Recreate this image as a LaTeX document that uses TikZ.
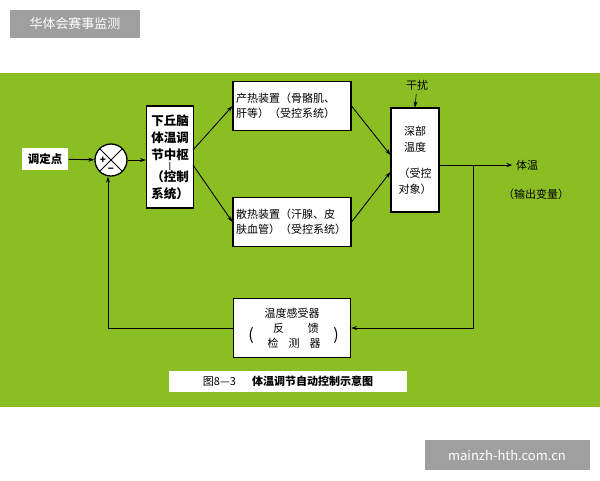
\documentclass[tikz,border=0pt]{standalone}
\usepackage{fontspec}
\setmainfont{Noto Sans CJK SC}
\usetikzlibrary{arrows.meta}
\definecolor{grn}{HTML}{8BBE22}
\begin{document}
\begin{tikzpicture}[x=1pt,y=-1pt,
  box/.style={draw=black,line width=1.1pt,fill=white,inner sep=0pt,align=center,font=\fontsize{11}{15}\selectfont},
  conn/.style={line width=0.9pt,-{Stealth[length=6pt,width=4pt]}},
  lbl/.style={font=\fontsize{11}{13}\selectfont}]
\useasboundingbox (0,0) rectangle (600,480);
\fill[white] (0,0) rectangle (600,480);
\fill[grn] (0,73) rectangle (600,407);
\node[fill=gray!75,text=white,minimum width=130pt,minimum height=28pt,inner sep=0pt,font=\fontsize{13}{15}\selectfont] (tl) at (75,24) {华体会赛事监测};
\node[fill=gray!75,text=white,minimum width=165pt,minimum height=30pt,inner sep=0pt,font=\fontsize{13}{15}\selectfont] (br) at (507,455) {mainzh-hth.com.cn};
\node[box,minimum width=46pt,minimum height=22pt,draw=none,font=\bfseries\fontsize{11.5}{12}\selectfont] (set) at (45,159) {调定点};
\node[draw=black,line width=1.3pt,fill=white,circle,minimum size=32pt,inner sep=0pt] (sum) at (111,160) {};
\draw[line width=1pt] (sum.north west) -- (sum.south east) (sum.north east) -- (sum.south west);
\node[font=\bfseries\fontsize{10}{10}\selectfont] (plus) at (103,160) {+};
\node[font=\bfseries\fontsize{10}{10}\selectfont] (minus) at (111,170) {−};
\node[box,minimum width=47pt,minimum height=102pt,font=\bfseries\fontsize{12.5}{17}\selectfont] (ctl) at (170,157) {下丘脑\\体温调\\节中枢\\[-8pt]{\fontsize{7}{7}\selectfont|}\\[-4pt]（控制\\系统）};
\node[box,minimum width=118pt,minimum height=49pt,align=left,text width=112pt] (heat) at (292,106) {产热装置（骨骼肌、\\肝等）（受控系统）};
\node[box,minimum width=118pt,minimum height=49pt,align=left,text width=112pt] (cool) at (292,222) {散热装置（汗腺、皮\\肤血管）（受控系统）};
\node[box,minimum width=48pt,minimum height=104pt,font=\fontsize{11}{16}\selectfont] (deep) at (415,160) {深部\\温度\\[10pt]（受控\\对象）};
\node[lbl] (dist) at (417,85) {干扰};
\node[box,minimum width=117pt,minimum height=59pt,font=\fontsize{11}{15}\selectfont] (fb) at (292,328) {温度感受器\\\hspace{8pt}反\hspace{24pt}馈\\\hspace{4pt}检\hspace{10pt}测\hspace{10pt}器};
\node[font=\fontsize{16}{16}\selectfont] (lp) at (251,336) {(};
\node[font=\fontsize{16}{16}\selectfont] (rp) at (336,336) {)};
\node[fill=white,minimum width=238pt,minimum height=21pt,inner sep=0pt,font=\fontsize{11}{13}\selectfont] (cap) at (288,381) {图8—3\hspace{16pt}\textbf{体温调节自动控制示意图}};
\node[lbl] (tw) at (527,165) {体温};
\node[lbl] (out) at (536,194) {（输出变量）};
\coordinate (br1) at (473,165);
\coordinate (br2) at (473,328);
\coordinate (fl) at (108,328);
\draw[conn] (set) -- (sum);
\draw[conn] (sum) -- (ctl.west |- sum);
\draw[conn] (193,150) -- (heat.west);
\draw[conn] (193,165) -- (cool.west);
\draw[conn] (heat.east) -- (deep.west |- 0,155);
\draw[conn] (cool.east) -- (deep.west |- 0,172);
\draw[conn,line width=0.6pt] (dist) -- (deep.north);
\draw[conn] (deep.east |- br1) -- (tw.west);
\draw[conn] (br1) -- (br2) -- (fb.east |- br2);
\draw[conn] (fb.west) -- (fl) -- (sum.south -| fl);
\end{tikzpicture}
\end{document}
